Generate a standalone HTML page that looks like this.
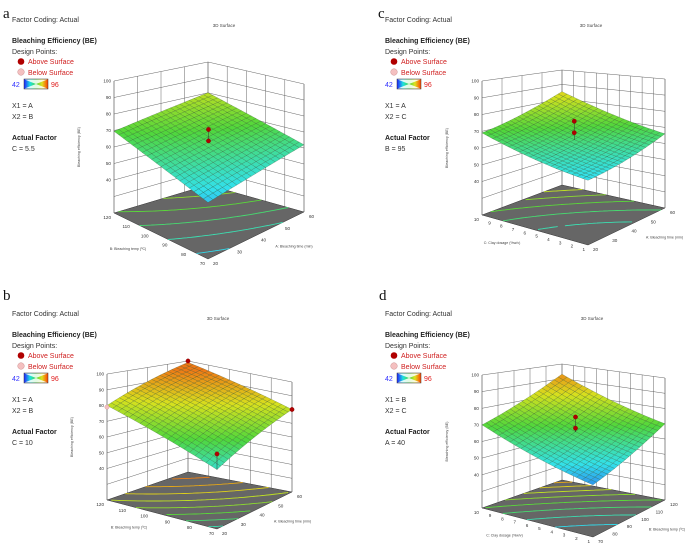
<!DOCTYPE html>
<html><head><meta charset="utf-8"><style>
body{margin:0;background:#fff;}
svg{display:block;font-family:"Liberation Sans",sans-serif;}
.lg{font-size:7px;fill:#333}
.lb{font-size:7px;fill:#222;font-weight:bold}
.tk{font-size:4.6px;fill:#333}
.at{font-size:3.6px;fill:#444}
.pl{font-family:"Liberation Serif",serif;font-size:15px;fill:#111}
</style></head><body>
<svg id="c" width="685" height="544" viewBox="0 0 685 544">
<defs><linearGradient id="cb" x1="0" x2="1"><stop offset="0" stop-color="#2020ff"/><stop offset="0.25" stop-color="#20e0e0"/><stop offset="0.5" stop-color="#40d840"/><stop offset="0.75" stop-color="#e0e020"/><stop offset="1" stop-color="#ff4000"/></linearGradient></defs>
</svg>
<script>
// ---- data (model coefficients: [b0, bu, bv, buv, buu, bvv]) ----
const coefA=[53,9,16.5,1.5,0,0];
const coefB=[58,26,26,-3,-4,-4];
const coefC=[55,3,6,5,8,8];
const coefD=[50,12,12,3,8,8];
// design points [u, v, z, above(1)/below(0)]
const dotsA=[[0.5,0.5,74,1],[0.5,0.5,67,1]];
const dotsB=[[1,1,100,1],[1,0,80,1],[0,1,79,0],[0,0,68,1]];
const dotsC=[[0.5,0.5,76,1],[0.5,0.5,69,1]];
const dotsD=[[0.5,0.5,76,1],[0.5,0.5,69,1]];
const zTicks=[40,50,60,70,80,90,100];
const ticksTime=[20,30,40,50,60];
const ticksTemp=[70,80,90,100,110,120];
const ticksClay=[1,2,3,4,5,6,7,8,9,10];
const contourLevels=[45,50,55,60,65,70,75,80,85,90,95];

const panels=[
 {lab:"a",lx:3,ly:18,tx:15,ty:0,X1:"A",X2:"B",af:"C =  5.5",title:[224,27],
  F:[208,259],R:[304,212],L:[114,213],B:[208,185],h:[137,128,132,123],coef:coefA,dots:dotsA,
  uT:ticksTime,vT:ticksTemp,uName:"A: Bleaching time (min)",vName:"B: Bleaching temp (ºC)"},
 {lab:"b",lx:3,ly:300,tx:15,ty:294,X1:"A",X2:"B",af:"C =  10",title:[218,320],
  F:[217,529],R:[292,492],L:[107,500],B:[188,472],h:[125,110,126,111],coef:coefB,dots:dotsB,
  uT:ticksTime,vT:ticksTemp,uName:"A: Bleaching time (min)",vName:"B: Bleaching temp (ºC)"},
 {lab:"c",lx:378,ly:18,tx:388,ty:0,X1:"A",X2:"C",af:"B =  95",title:[591,27],
  F:[588,245],R:[665,208],L:[482,215],B:[562,185],h:[148,129,134,115],coef:coefC,dots:dotsC,
  uT:ticksTime,vT:ticksClay,uName:"A: Bleaching time (min)",vName:"C: Clay dosage (%w/v)"},
 {lab:"d",lx:379,ly:300,tx:388,ty:294,X1:"B",X2:"C",af:"A =  40",title:[592,320],
  F:[593,537],R:[665,500],L:[482,508],B:[562,480],h:[139,122,133,116],coef:coefD,dots:dotsD,
  uT:ticksTemp,vT:ticksClay,uName:"B: Bleaching temp (ºC)",vName:"C: Clay dosage (%w/v)"}
];
const svg=document.getElementById('c');
const NS="http://www.w3.org/2000/svg";
function mk(tag,attrs,parent){const e=document.createElementNS(NS,tag);for(const k in attrs)e.setAttribute(k,attrs[k]);(parent||svg).appendChild(e);return e;}
function txt(x,y,s,cls,extra,parent){const e=mk('text',Object.assign({x:x,y:y,class:cls},extra||{}),parent);e.textContent=s;return e;}
function color(z){const t=Math.max(0,Math.min(1,(z-42)/54));
 const st=[[40,40,240],[50,225,235],[80,215,60],[215,225,30],[240,120,20]];
 const p=t*4,i=Math.min(3,Math.floor(p)),f=p-i;
 const c=st[i].map((a,k)=>Math.round(a+(st[i+1][k]-a)*f));return `rgb(${c})`;}
function zf(c,u,v){return c[0]+c[1]*u+c[2]*v+c[3]*u*v+c[4]*u*u+c[5]*v*v;}

panels.forEach(P=>{
 const g=mk('g',{});
 
 
 const B=P.B;
 function pr(u,v,z){const w=[(1-u)*(1-v),u*(1-v),(1-u)*v,u*v];
  const x=P.F[0]*w[0]+P.R[0]*w[1]+P.L[0]*w[2]+B[0]*w[3];
  const y=P.F[1]*w[0]+P.R[1]*w[1]+P.L[1]*w[2]+B[1]*w[3];
  const h=P.h[0]*w[0]+P.h[1]*w[1]+P.h[2]*w[2]+P.h[3]*w[3];
  return [x,y-(z-20)/80*h];}
 const pt=a=>a[0].toFixed(1)+","+a[1].toFixed(1);
 // legend
 const lg=mk('g',{},g);
 txt(P.lx,P.ly,P.lab,'pl',{},g);
 const o=P.ty;
 txt(P.tx-3,o+22,"Factor Coding: Actual",'lg',{},lg);
 txt(P.tx-3,o+43,"Bleaching Efficiency (BE)",'lb',{},lg);
 txt(P.tx-3,o+54,"Design Points:",'lg',{},lg);
 mk('circle',{cx:P.tx+6,cy:o+61.5,r:3.3,fill:'#b00000'},lg);
 txt(P.tx+13,o+64,"Above Surface",'lg',{style:'fill:#d02020'},lg);
 mk('circle',{cx:P.tx+6,cy:o+72,r:3.3,fill:'#f4c0c0',stroke:'#c08080','stroke-width':0.4},lg);
 txt(P.tx+13,o+75,"Below Surface",'lg',{style:'fill:#d02020'},lg);
 txt(P.tx-3,o+87,"42",'lg',{style:'fill:#3030ff'},lg);
 mk('rect',{x:P.tx+9,y:o+79,width:24,height:10,fill:'url(#cb)',stroke:'#333','stroke-width':0.5},lg);
 mk('path',{d:`M${P.tx+9.5} ${o+79.5}L${P.tx+21} ${o+84}L${P.tx+32.5} ${o+79.5}Z M${P.tx+9.5} ${o+88.5}L${P.tx+21} ${o+84}L${P.tx+32.5} ${o+88.5}Z`,fill:'#fff',opacity:0.85},lg);
 txt(P.tx+36,o+87,"96",'lg',{style:'fill:#e02020'},lg);
 txt(P.tx-3,o+108,"X1 =  "+P.X1,'lg',{},lg);
 txt(P.tx-3,o+119,"X2 =  "+P.X2,'lg',{},lg);
 txt(P.tx-3,o+140,"Actual Factor",'lb',{},lg);
 txt(P.tx-3,o+151,P.af,'lg',{},lg);
 const tt=txt(P.title[0],P.title[1],"3D Surface",'at',{'text-anchor':'middle',style:'font-size:4.5px'},g);
 
 // box walls grid
 const gl={stroke:'#555','stroke-width':0.45,fill:'none'};
 zTicks.concat([30]).forEach(z=>{
  mk('polyline',Object.assign({points:[pr(0,1,z),pr(1,1,z),pr(1,0,z)].map(pt).join(' ')},gl),g);});
 const un=P.uT.length-1,vn=P.vT.length-1;
 P.uT.forEach((t,i)=>{const u=i/un;mk('line',Object.assign({x1:pr(u,1,20)[0],y1:pr(u,1,20)[1],x2:pr(u,1,100)[0],y2:pr(u,1,100)[1]},gl),g);});
 P.vT.forEach((t,i)=>{const v=i/vn;mk('line',Object.assign({x1:pr(1,v,20)[0],y1:pr(1,v,20)[1],x2:pr(1,v,100)[0],y2:pr(1,v,100)[1]},gl),g);});
 [[0,1],[1,0]].forEach(c=>mk('line',Object.assign({x1:pr(c[0],c[1],20)[0],y1:pr(c[0],c[1],20)[1],x2:pr(c[0],c[1],100)[0],y2:pr(c[0],c[1],100)[1]},gl),g));
 // floor
 const fl=mk('polygon',{points:[pr(0,0,20),pr(1,0,20),pr(1,1,20),pr(0,1,20)].map(pt).join(' '),fill:'#666',stroke:'#333','stroke-width':0.5},g);
 
 // contours (marching squares)
 const N=40;
 contourLevels.forEach(lv=>{let d="";
  for(let i=0;i<N;i++)for(let j=0;j<N;j++){
   const c=[[i/N,j/N],[(i+1)/N,j/N],[(i+1)/N,(j+1)/N],[i/N,(j+1)/N]];
   const zz=c.map(q=>zf(P.coef,q[0],q[1]));const pts=[];
   for(let k=0;k<4;k++){const a=zz[k],b=zz[(k+1)%4];if((a-lv)*(b-lv)<0){const f=(lv-a)/(b-a);const q1=c[k],q2=c[(k+1)%4];pts.push(pr(q1[0]+(q2[0]-q1[0])*f,q1[1]+(q2[1]-q1[1])*f,20));}}
   if(pts.length>=2)d+=`M${pt(pts[0])}L${pt(pts[1])}`;}
  if(d){const p=mk('path',{d:d,stroke:color(lv),'stroke-width':0.9,fill:'none'},g);
   }
 });
 // tick labels
 zTicks.forEach(z=>{const p=pr(0,1,z);txt(p[0]-3,p[1]+1.5,z,'tk',{'text-anchor':'end'},g);});
 P.vT.forEach((t,i)=>{const p=pr(0,i/vn,20);txt(p[0]-3,p[1]+6,t,'tk',{'text-anchor':'end'},g);});
 P.uT.forEach((t,i)=>{const p=pr(i/un,0,20);txt(p[0]+5,p[1]+6,t,'tk',{},g);});
 const mv=pr(0,0.5,20),mu=pr(0.5,0,20),mz=pr(0,1,60);
 txt(mv[0]-33,mv[1]+14,P.vName,'at',{'text-anchor':'middle'},g);
 txt(mu[0]+38,mu[1]+12,P.uName,'at',{'text-anchor':'middle'},g);
 txt(mz[0]-34,mz[1],"Bleaching efficiency (BE)",'at',{'text-anchor':'middle',transform:`rotate(-90 ${mz[0]-34} ${mz[1]})`},g);
 // surface
 const S=20,sg=mk('g',{},g);
 
 const cells=[];for(let i=0;i<S;i++)for(let j=0;j<S;j++)cells.push([i,j]);
 cells.sort((a,b)=>(b[0]+b[1])-(a[0]+a[1]));
 cells.forEach(([i,j])=>{const q=[[i,j],[i+1,j],[i+1,j+1],[i,j+1]].map(c=>[c[0]/S,c[1]/S]);
  const zs=q.map(c=>zf(P.coef,c[0],c[1]));
  mk('polygon',{points:q.map((c,k)=>pt(pr(c[0],c[1],zs[k]))).join(' '),fill:color(zs.reduce((a,b)=>a+b)/4),stroke:'#2a4a2a','stroke-width':0.3,'stroke-opacity':0.7},sg);});
 // design points
 P.dots.forEach(d=>{const s=zf(P.coef,d[0],d[1]);const a=pr(d[0],d[1],d[2]),b=pr(d[0],d[1],s);
  mk('line',{x1:a[0],y1:a[1],x2:b[0],y2:b[1],stroke:'#333','stroke-width':0.5},g);
  const c=mk('circle',{cx:a[0],cy:a[1],r:2.2,fill:d[3]?'#b00000':'#f4c0c0',stroke:d[3]?'#700':'#c08080','stroke-width':0.3},g);
  });
});
</script>
</body></html>
